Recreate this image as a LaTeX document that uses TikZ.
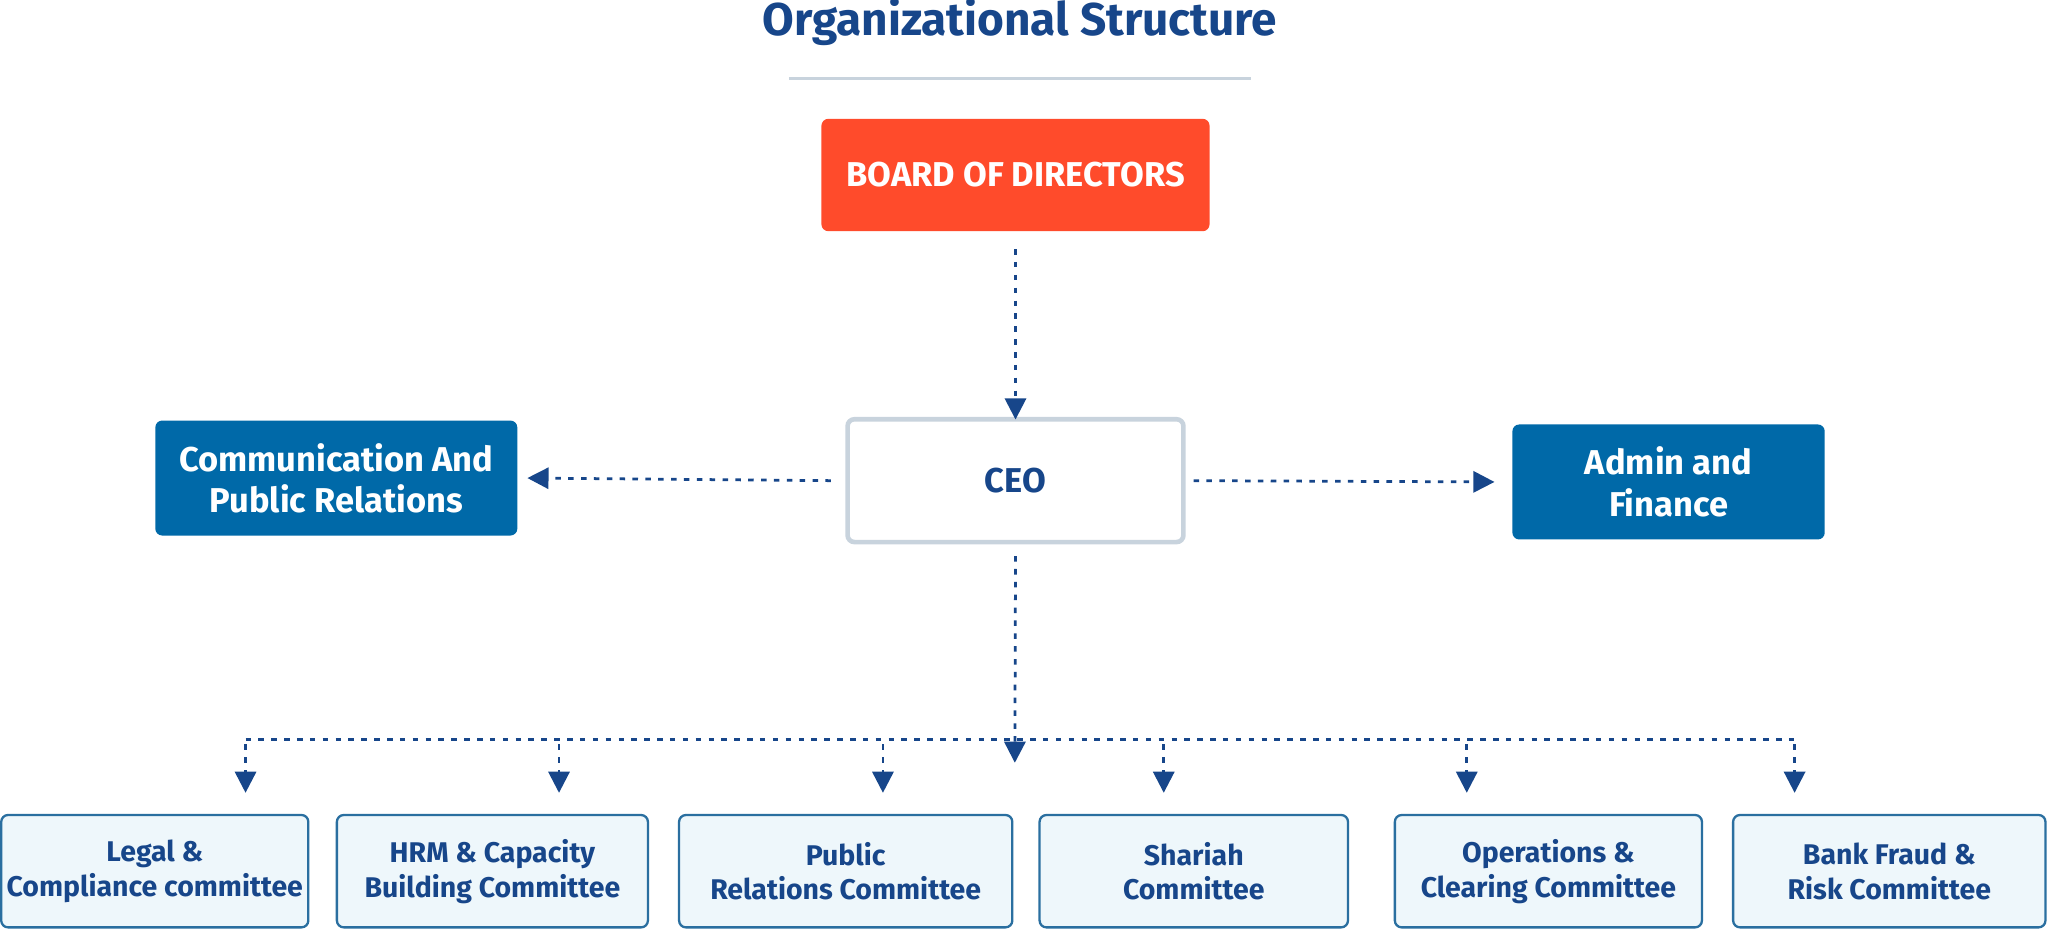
\documentclass[tikz,border=0pt]{standalone}
\usepackage{fontspec}
\setmainfont{Fira Sans}
\usepackage{xcolor}
\usetikzlibrary{positioning,arrows.meta}
\definecolor{navy}{HTML}{17468A}
\definecolor{boardred}{HTML}{FF4B2B}
\definecolor{deptblue}{HTML}{0069A8}
\definecolor{ceoline}{HTML}{C8D3DD}
\definecolor{cfill}{HTML}{EEF7FB}
\definecolor{cline}{HTML}{2A6FA0}
\tikzset{
  every overlay node/.style={}
}

\begin{document}
\begin{tikzpicture}[x=0.01cm,y=-0.01cm,
		box/.style = {rounded corners=1.5pt, align=center, font=\bfseries\fontsize{7.5}{9}\selectfont, inner sep=0pt},
		dept/.style = {box, fill=deptblue, text=white},
		cmt/.style = {rounded corners=1.5pt, align=center, draw=cline, fill=cfill, text=navy, line width=0.5pt, minimum height=0.86cm, inner sep=0pt, font=\bfseries\fontsize{6.2}{7.6}\selectfont},
		link/.style = {draw=navy, line width=0.6pt, dash pattern=on 1.2pt off 1.6pt},
		tip/.style = {link, -{Triangle[width=4.6pt,length=4.6pt]}}]
	\useasboundingbox (0,0) rectangle (1568,712);
	\node[text=navy, font=\bfseries\fontsize{10}{12}\selectfont] (title) at (781,17) {Organizational Structure};
	\draw[ceoline, line width=0.5pt] (604,60) -- (958,60);
	
	\node[box, fill=boardred, text=white, minimum width=2.97cm, minimum height=0.86cm] (board) at (777.5,134) {BOARD OF DIRECTORS};
	\node[box, draw=ceoline, fill=white, text=navy, line width=1pt, minimum width=2.57cm, minimum height=0.94cm] (ceo) at (777.5,368) {CEO};
	\node[dept, minimum width=2.77cm, minimum height=0.88cm] (comm) at (257.5,366) {Communication And\\Public Relations};
	\node[dept, minimum width=2.39cm, minimum height=0.88cm] (admin) at (1277.5,369) {Admin and\\Finance};
	
	\coordinate (bus) at (777,566);
	\coordinate (busl) at (188,566);
	\coordinate (busr) at (1374,566);
	
	\node[cmt, minimum width=2.35cm] (c1) at (118.5,667) {Legal \&\\Compliance committee};
	\node[cmt, minimum width=2.38cm] (c2) at (377,667) {HRM \& Capacity\\Building Committee};
	\node[cmt, minimum width=2.55cm] (c3) at (647.5,667) {Public\\Relations Committee};
	\node[cmt, minimum width=2.36cm] (c4) at (914,667) {Shariah\\Committee};
	\node[cmt, minimum width=2.35cm] (c5) at (1185.5,667) {Operations \&\\Clearing Committee};
	\node[cmt, minimum width=2.39cm] (c6) at (1446.5,667) {Bank Fraud \&\\Risk Committee};
	
	\draw[tip] ([yshift=-0.13cm]board.south) to ([yshift=-0.02cm]ceo.north);
	\draw[tip] ([xshift=-0.11cm]ceo.west) to ([xshift=0.07cm]comm.east);
	\draw[tip] ([xshift=0.06cm]ceo.east) to ([xshift=-0.13cm]admin.west);
	\draw[tip] ([yshift=-0.09cm]ceo.south) to ([yshift=-0.18cm]bus);
	\draw[link] (busl) to (busr);
	\foreach \c/\x in {c1/188, c2/428, c3/676, c4/891, c5/1123, c6/1374}
		\draw[tip] (\x,570) to (\x,607);
\end{tikzpicture}
\end{document}
